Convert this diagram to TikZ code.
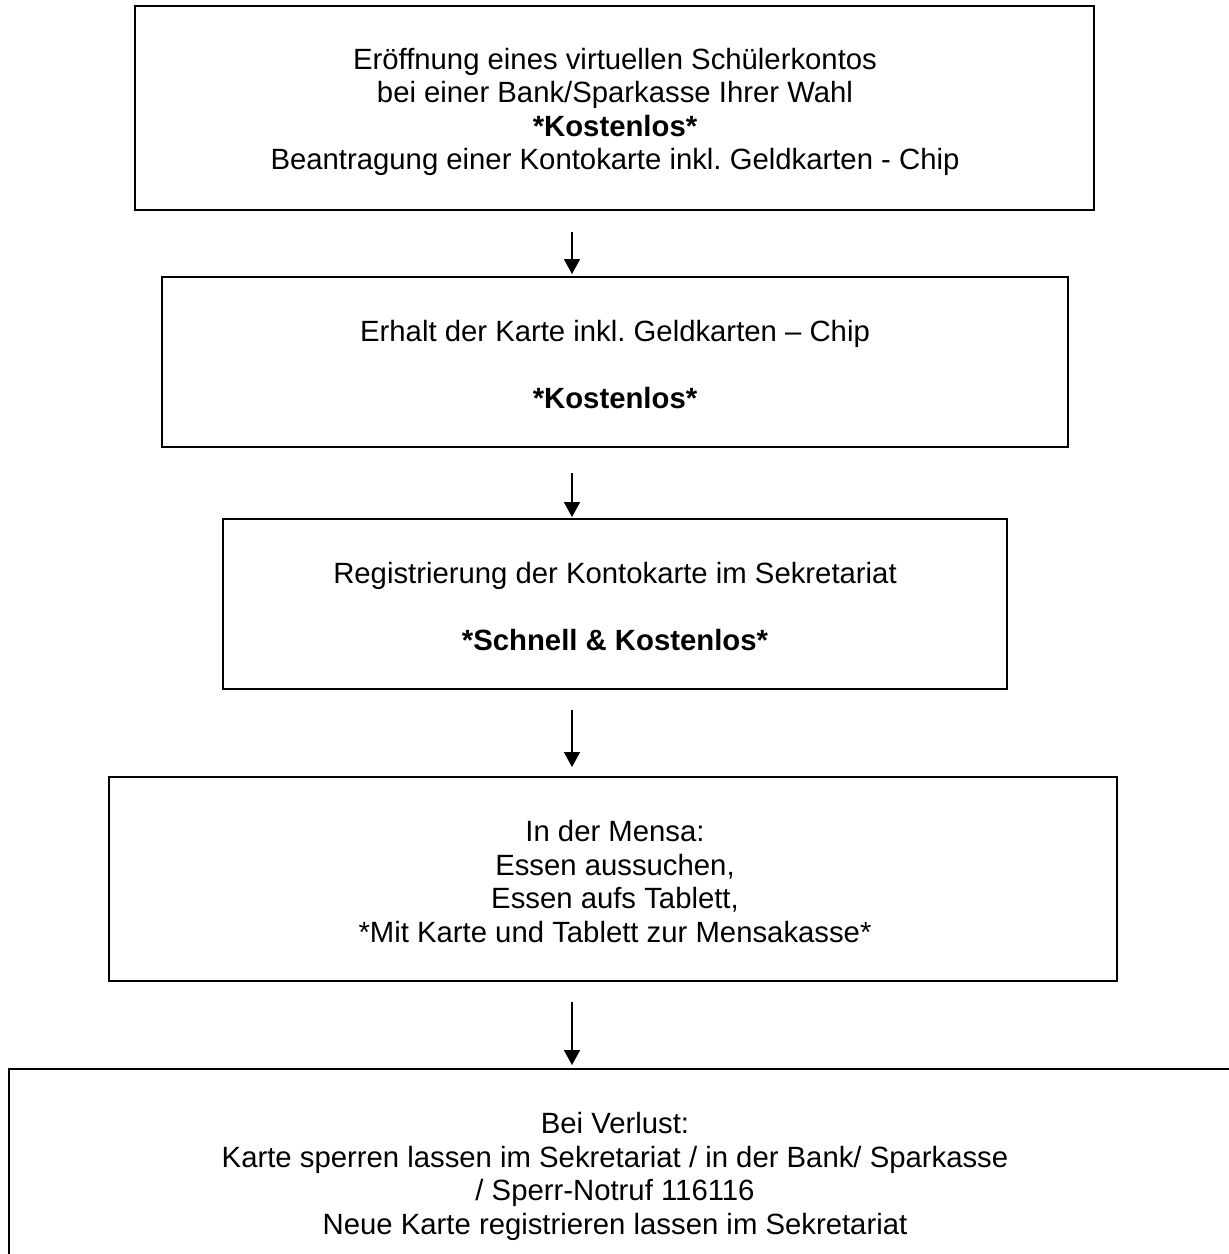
\documentclass[tikz,border=0pt]{standalone}
\usepackage{fontspec}
\setmainfont{Liberation Sans}
\usetikzlibrary{arrows.meta}
\frenchspacing
\begin{document}
\begin{tikzpicture}[x=1pt,y=-1pt,
  box/.style={draw=black, line width=2pt, rectangle, inner sep=0pt},
  txt/.style={anchor=base, inner sep=0pt, font=\fontsize{29.3}{33.6}\selectfont},
  btxt/.style={anchor=base, inner sep=0pt, font=\fontsize{29.3}{33.6}\selectfont\bfseries},
  arr/.style={line width=1.7pt, -{Triangle[length=15pt,width=16pt]}}]
\useasboundingbox (0,0) rectangle (1229,1254);
\clip (0,0) rectangle (1229,1254);
% boxes
\node[box, minimum width=959pt, minimum height=204pt] (b1) at (614.5,108) {};
\node[box, minimum width=906pt, minimum height=170pt] (b2) at (615,362) {};
\node[box, minimum width=784pt, minimum height=170pt] (b3) at (615,604) {};
\node[box, minimum width=1008pt, minimum height=204pt] (b4) at (613,879) {};
\node[box, minimum width=1251pt, minimum height=221pt] (b5) at (634.5,1179.5) {};
% texts box 1
\node[txt]  (t1a) at (615,69)    {Eröffnung eines virtuellen Schülerkontos};
\node[txt]  (t1b) at (615,102.6) {bei einer Bank/Sparkasse Ihrer Wahl};
\node[btxt] (t1c) at (615,136.2) {*Kostenlos*};
\node[txt]  (t1d) at (615,169.8) {Beantragung einer Kontokarte inkl. Geldkarten - Chip};
% box 2
\node[txt]  (t2a) at (615,341) {Erhalt der Karte inkl. Geldkarten – Chip};
\node[btxt] (t2b) at (615,408) {*Kostenlos*};
% box 3
\node[txt]  (t3a) at (615,583) {Registrierung der Kontokarte im Sekretariat};
\node[btxt] (t3b) at (615,650) {*Schnell \& Kostenlos*};
% box 4
\node[txt] (t4a) at (615,841) {In der Mensa:};
\node[txt] (t4b) at (615,875) {Essen aussuchen,};
\node[txt] (t4c) at (615,908) {Essen aufs Tablett,};
\node[txt] (t4d) at (615,942) {*Mit Karte und Tablett zur Mensakasse*};
% box 5
\node[txt] (t5a) at (615,1133) {Bei Verlust:};
\node[txt] (t5b) at (615,1167) {Karte sperren lassen im Sekretariat / in der Bank/ Sparkasse};
\node[txt] (t5c) at (615,1200) {/ Sperr-Notruf 116116};
\node[txt] (t5d) at (615,1234) {Neue Karte registrieren lassen im Sekretariat};
% arrows
\coordinate (a1s) at (572,232);  \coordinate (a1e) at (572,274);
\coordinate (a2s) at (572,473);  \coordinate (a2e) at (572,517);
\coordinate (a3s) at (572,710);  \coordinate (a3e) at (572,767);
\coordinate (a4s) at (572,1002); \coordinate (a4e) at (572,1065);
\draw[arr] (a1s) -- (a1e);
\draw[arr] (a2s) -- (a2e);
\draw[arr] (a3s) -- (a3e);
\draw[arr] (a4s) -- (a4e);
\end{tikzpicture}
\end{document}
